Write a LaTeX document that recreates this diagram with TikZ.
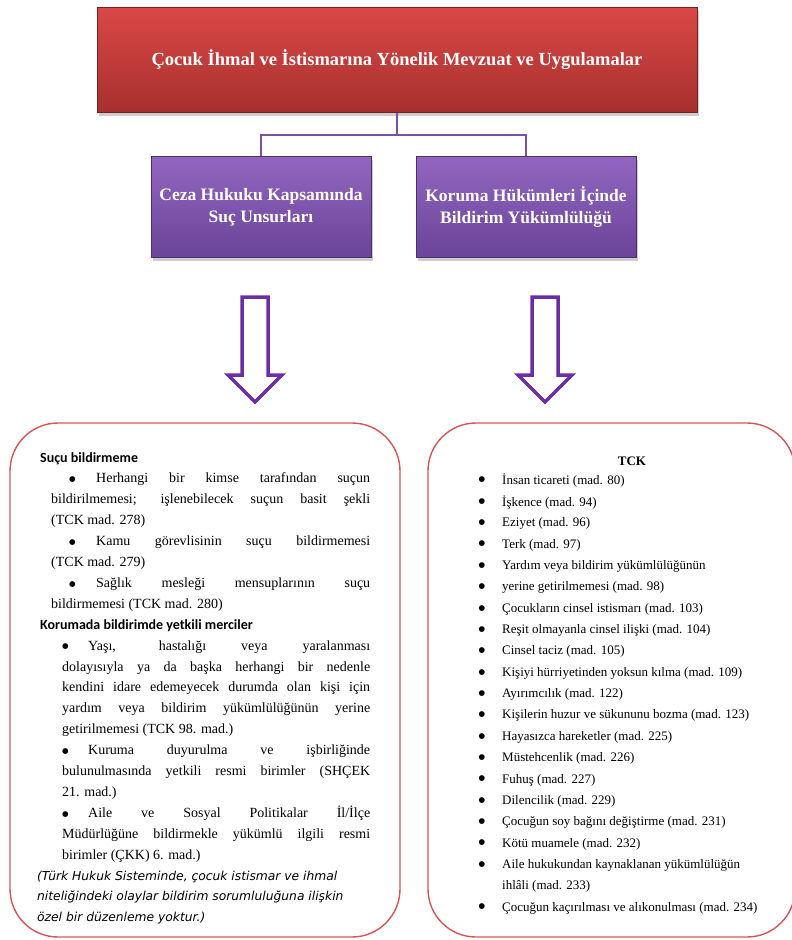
\documentclass[tikz,border=0pt]{standalone}
\usepackage{fontspec}
\setmainfont{Liberation Serif}
\newfontfamily\headfont{Carlito}
\newfontfamily\notefont{DejaVu Sans}
\newfontfamily\symfont{DejaVu Sans}
\usetikzlibrary{shadows}

\definecolor{titlered}{RGB}{218,72,70}
\definecolor{titledark}{RGB}{166,48,46}
\definecolor{boxpurple}{RGB}{146,102,192}
\definecolor{boxdarkpurple}{RGB}{106,68,152}
\definecolor{linepurple}{RGB}{122,80,162}
\definecolor{arrowpurple}{RGB}{108,44,166}
\definecolor{listred}{RGB}{218,84,84}

\newcommand\blt{\raisebox{1.2pt}{\symfont\fontsize{7.5}{7.5}\selectfont ●}}

\tikzset{
  titlebox/.style={draw=titledark!70!black, top color=titlered, bottom color=titledark,
    text=white, align=center, font=\bfseries\fontsize{18.5}{22}\selectfont,
    drop shadow={opacity=0.4, shadow xshift=2pt, shadow yshift=-3pt}},
  areabox/.style={draw=boxdarkpurple!70!black, top color=boxpurple, bottom color=boxdarkpurple,
    text=white, align=center, font=\bfseries\fontsize{17.5}{22}\selectfont,
    minimum width=220pt, minimum height=101pt,
    drop shadow={opacity=0.4, shadow xshift=2pt, shadow yshift=-3pt}},
  link/.style={draw=linepurple, line width=2pt},
  listbox/.style={draw=listred, line width=1.4pt, rounded corners=48pt},
  tckline/.style={anchor=west, inner sep=0pt, font=\fontsize{13}{16}\selectfont},
  hollowarrow/.pic={
    \draw[arrowpurple, line width=3.5pt, fill=white]
      (-13,0) -- (13,0) -- (13,78) -- (27,78) -- (0,105) -- (-27,78) -- (-13,78) -- cycle;
  }
}

\begin{document}
\begin{tikzpicture}[x=1pt, y=-1pt]
  \useasboundingbox (0,0) rectangle (792,940);

  % top and the two branches
  \node[titlebox, minimum width=600pt, minimum height=105pt] (title) at (397,60)
    {Çocuk İhmal ve İstismarına Yönelik Mevzuat ve Uygulamalar};
  \node[areabox] (ceza) at (261,207) {Ceza Hukuku Kapsamında\\Suç Unsurları};
  \node[areabox] (koruma) at (526,207) {Koruma Hükümleri İçinde\\Bildirim Yükümlülüğü};
  \draw[link] (title.south) -- ++(0,22) -| (ceza.north);
  \draw[link] (title.south) -- ++(0,22) -| (koruma.north);

  \pic (okleft) at (255,297) {hollowarrow};
  \pic (okright) at (545,297) {hollowarrow};

  % the two lists
  \node[listbox, minimum width=390pt, minimum height=514pt] (sucbox) at (205,680) {};
  \node[listbox, minimum width=367pt, minimum height=514pt] (tckbox) at (611.5,680) {};

  \node[anchor=north west, inner sep=0pt, text width=330pt, align=justify,
        font=\fontsize{14}{20.9}\selectfont] (suctext) at (40,452) {%
    \parindent=0pt
    {\headfont\bfseries Suçu bildirmeme}\par
    {\leftskip=11pt \hspace*{18pt}\makebox[27pt][l]{\blt}Herhangi bir kimse tarafından suçun\linebreak
      bildirilmemesi; işlenebilecek suçun basit şekli\linebreak (TCK mad. 278)\par}
    {\leftskip=11pt \hspace*{18pt}\makebox[27pt][l]{\blt}Kamu görevlisinin suçu bildirmemesi\linebreak
      (TCK mad. 279)\par}
    {\leftskip=11pt \hspace*{18pt}\makebox[27pt][l]{\blt}Sağlık mesleği mensuplarının suçu\linebreak
      bildirmemesi (TCK mad. 280)\par}
    {\headfont\bfseries Korumada bildirimde yetkili merciler}\par
    {\leftskip=22pt \makebox[26pt][l]{\blt}Yaşı, hastalığı veya yaralanması\linebreak
      dolayısıyla ya da başka herhangi bir nedenle\linebreak
      kendini idare edemeyecek durumda olan kişi için\linebreak
      yardım veya bildirim yükümlülüğünün yerine\linebreak
      getirilmemesi (TCK 98. mad.)\par}
    {\leftskip=22pt \makebox[26pt][l]{\blt}Kuruma duyurulma ve işbirliğinde\linebreak
      bulunulmasında yetkili resmi birimler (SHÇEK\linebreak 21. mad.)\par}
    {\leftskip=22pt \makebox[26pt][l]{\blt}Aile ve Sosyal Politikalar İl/İlçe\linebreak
      Müdürlüğüne bildirmekle yükümlü ilgili resmi\linebreak birimler (ÇKK) 6. mad.)\par}
    {\leftskip=-3pt \notefont\itshape\fontsize{12.3}{20.9}\selectfont
      (Türk Hukuk Sisteminde, çocuk istismar ve ihmal\newline
      niteliğindeki olaylar bildirim sorumluluğuna ilişkin\newline
      özel bir düzenleme yoktur.)\par}
  };

  \node[inner sep=0pt, font=\bfseries\fontsize{13}{16}\selectfont] (tckhead) at (632,461) {TCK};
  \foreach [count=\i] \txt/\bul in {
      İnsan ticareti (mad. 80)/●, İşkence (mad. 94)/●, Eziyet (mad. 96)/●,
      Terk (mad. 97)/●, Yardım veya bildirim yükümlülüğünün/●,
      yerine getirilmemesi (mad. 98)/●, Çocukların cinsel istismarı (mad. 103)/●,
      Reşit olmayanla cinsel ilişki (mad. 104)/●, Cinsel taciz (mad. 105)/●,
      Kişiyi hürriyetinden yoksun kılma (mad. 109)/●, Ayırımcılık (mad. 122)/●,
      Kişilerin huzur ve sükununu bozma (mad. 123)/●, Hayasızca hareketler (mad. 225)/●,
      Müstehcenlik (mad. 226)/●, Fuhuş (mad. 227)/●, Dilencilik (mad. 229)/●,
      Çocuğun soy bağını değiştirme (mad. 231)/●, Kötü muamele (mad. 232)/●,
      Aile hukukundan kaynaklanan yükümlülüğün/●, ihlâli (mad. 233)/{},
      Çocuğun kaçırılması ve alıkonulması (mad. 234)/●} {
    \node[tckline] (tck\i) at (502, {481+21.35*(\i-1)}) {\txt};
    \node[inner sep=0pt, font=\symfont\fontsize{7.5}{7.5}\selectfont] (bul\i) at (482, {480+21.35*(\i-1)}) {\bul};
  }
\end{tikzpicture}
\end{document}
